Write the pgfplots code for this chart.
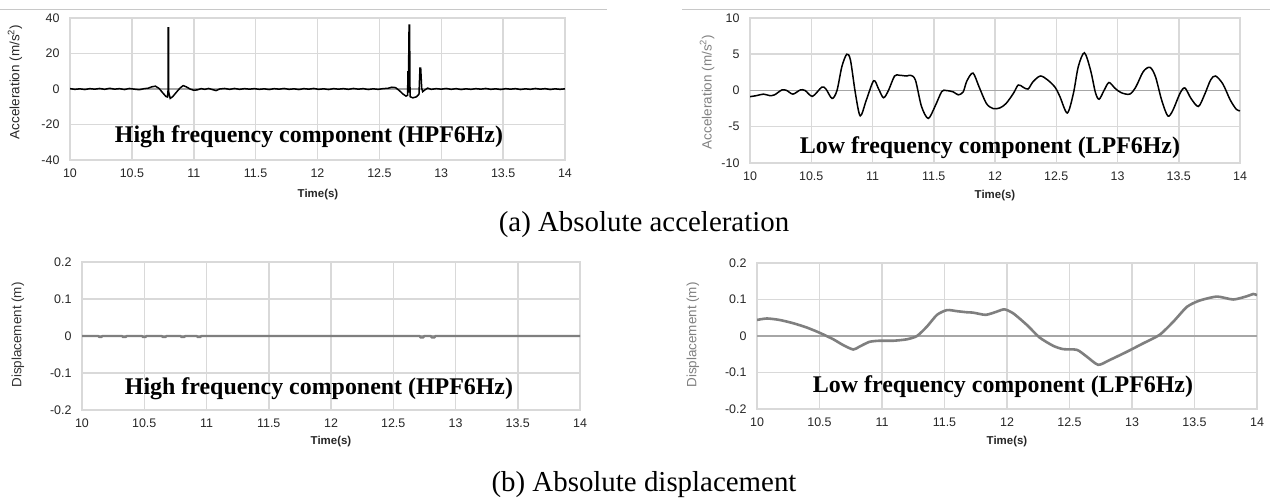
\documentclass[border=0pt]{standalone}
\usepackage{fontspec}
\setmainfont{Liberation Serif}
\setsansfont{Liberation Sans}
\usepackage{pgfplots}
\pgfplotsset{compat=1.18}

\definecolor{gridc}{HTML}{D9D9D9}
\definecolor{zeroc}{HTML}{A6A6A6}
\definecolor{dispc}{HTML}{7F7F7F}
\definecolor{sepc}{HTML}{C8C8C8}

\pgfplotsset{
  panel/.style={
    scale only axis, anchor=south west,
    xmin=10, xmax=14,
    xtick={10,10.5,11,11.5,12,12.5,13,13.5,14},
    grid=major,
    major grid style={draw=gridc, line width=1.5bp},
    axis line style={draw=gridc, line width=1.5bp},
    major tick length=0pt,
    tick label style={font=\fontsize{12.5}{14}\selectfont\sffamily, text=black!85},
    /pgf/number format/assume math mode=true,
    xticklabel style={yshift=-5bp},
    yticklabel style={xshift=-7bp},
    extra y ticks={0}, extra y tick labels={},
    extra y tick style={major grid style={draw=zeroc, line width=1.5bp}},
  },
}
\tikzset{
  annot/.style={font=\fontsize{24}{28}\selectfont\bfseries, anchor=base},
  tlabel/.style={font=\fontsize{11.5}{13}\selectfont\sffamily\bfseries, text=black!85},
  ylab/.style={font=\fontsize{13.5}{15}\selectfont\sffamily, rotate=90},
}

\begin{document}
\begin{tikzpicture}
\path[use as bounding box] (0,0) rectangle (1270bp,499bp);

% separator lines at the top
\draw[sepc, line width=1bp] (0,489bp) -- (607bp,489bp);
\draw[sepc, line width=1bp] (682bp,489bp) -- (1270bp,489bp);

% ---- (a) left: high frequency acceleration ----
\begin{axis}[panel, at={(70bp,339bp)}, width=495bp, height=142bp,
  ymin=-40, ymax=40, ytick={-40,-20,0,20,40}]
\addplot[black, line width=1.5bp] coordinates {
(10.00,0.2)(10.04,-0.2)(10.08,0.1)(10.12,-0.3)(10.16,0.2)(10.20,-0.1)(10.24,0.3)
(10.28,-0.2)(10.32,0.4)(10.36,-0.1)(10.40,0.2)(10.44,-0.3)(10.48,0.3)(10.52,-0.1)
(10.56,-0.4)(10.60,0.2)(10.63,0.4)(10.66,1.2)(10.69,1.6)(10.72,0.3)(10.75,-2.2)
(10.775,-4.2)(10.788,-4.5)(10.792,-1)(10.793,34.4)(10.796,34.4)(10.798,-2)
(10.81,-5.3)(10.83,-4.3)(10.86,-1.8)(10.89,0.6)(10.915,1.9)(10.94,1.2)(10.97,0)
(11.00,-0.7)(11.03,-0.5)(11.06,0.2)(11.09,-0.2)(11.12,0.3)(11.15,-0.3)(11.18,-0.9)
(11.21,0)(11.25,0.3)(11.29,-0.2)(11.33,0.3)(11.37,-0.2)(11.41,0.2)(11.45,-0.1)
(11.49,0.2)(11.53,-0.2)(11.57,0.1)(11.61,-0.3)(11.65,0.2)(11.69,-0.1)(11.73,0.3)
(11.77,-0.2)(11.81,0.1)(11.85,-0.3)(11.89,0.2)(11.93,-0.1)(11.97,0.3)(12.01,-0.2)
(12.05,0.1)(12.09,-0.3)(12.13,0.2)(12.17,-0.1)(12.21,0.2)(12.25,-0.2)(12.29,0.3)
(12.33,-0.1)(12.37,0.2)(12.41,-0.3)(12.45,0.1)(12.49,-0.2)(12.53,0.2)(12.57,0.4)
(12.60,1.0)(12.63,0.8)(12.66,-0.8)(12.69,-2.8)(12.715,-4.0)(12.728,-3.6)
(12.731,10)(12.734,-2)(12.740,36)(12.744,36)(12.748,-4.3)(12.77,-5.0)(12.80,-4.4)
(12.82,-3)(12.828,11.8)(12.834,11.8)(12.842,0.5)(12.85,-1.5)(12.87,-0.4)(12.89,0.5)
(12.92,-0.2)(12.96,0.2)(13.00,-0.1)(13.04,0.3)(13.08,-0.2)(13.12,0.2)(13.16,-0.3)
(13.20,0.1)(13.24,-0.2)(13.28,0.2)(13.32,-0.1)(13.36,0.3)(13.40,-0.2)(13.44,0.1)
(13.48,-0.3)(13.52,0.2)(13.56,-0.1)(13.60,0.2)(13.64,-0.3)(13.68,0.1)(13.72,-0.2)
(13.76,0.3)(13.80,-0.1)(13.84,0.2)(13.88,-0.3)(13.92,0.1)(13.96,-0.2)(14.00,0.1)
};
\end{axis}

% ---- (a) right: low frequency acceleration ----
\begin{axis}[panel, at={(750bp,336bp)}, width=490bp, height=145bp,
  ymin=-10, ymax=10, ytick={-10,-5,0,5,10}]
\addplot[black, line width=1.5bp, smooth, tension=0.5] coordinates {
(10.00,-0.85)(10.055,-0.7)(10.11,-0.5)(10.16,-0.7)(10.20,-0.6)(10.26,0.07)(10.30,0)
(10.35,-0.5)(10.41,0.07)(10.45,0)(10.51,-0.8)(10.585,0.45)(10.62,0.2)(10.67,-1.1)
(10.71,0)(10.75,3.3)(10.79,5.0)(10.82,4.2)(10.86,-0.35)(10.90,-3.5)(10.95,-1.3)
(11.01,1.35)(11.05,0.2)(11.09,-1.0)(11.13,0)(11.18,2.0)(11.22,2.1)(11.28,2.0)
(11.31,2.1)(11.35,1.45)(11.40,-2.2)(11.455,-3.85)(11.51,-2.2)(11.565,-0.15)(11.60,0)
(11.66,-0.2)(11.70,-0.6)(11.74,-0.2)(11.77,1.3)(11.82,2.4)(11.87,0.5)(11.93,-1.8)
(11.986,-2.5)(12.04,-2.4)(12.09,-1.8)(12.15,-0.4)(12.19,0.76)(12.23,0.45)(12.27,0.2)
(12.31,1.2)(12.37,2.0)(12.43,1.45)(12.49,0.45)(12.53,-0.85)(12.59,-3.1)(12.64,-0.4)
(12.68,3.3)(12.73,5.2)(12.78,2.8)(12.82,-0.3)(12.85,-1.2)(12.89,0)(12.93,1.1)
(12.98,0.3)(13.03,-0.3)(13.10,-0.5)(13.15,0.5)(13.21,2.6)(13.265,3.2)(13.31,1.9)
(13.36,-1.3)(13.41,-3.5)(13.45,-2.8)(13.51,-0.4)(13.55,0.35)(13.60,-1.1)(13.66,-2.2)
(13.71,-0.6)(13.76,1.45)(13.80,2.0)(13.86,0.9)(13.92,-1.3)(13.97,-2.6)(14.0,-2.8)
};
\end{axis}

% ---- (b) left: high frequency displacement ----
\begin{axis}[panel, at={(82bp,89bp)}, width=498bp, height=148bp,
  ymin=-0.2, ymax=0.2, ytick={-0.2,-0.1,0,0.1,0.2}]
\addplot[dispc, line width=2.2bp] coordinates {
(10.00,0)(10.13,0)(10.14,-0.003)(10.155,-0.003)(10.165,0)(10.32,0)(10.33,-0.003)
(10.35,-0.003)(10.36,0)(10.48,0)(10.49,-0.003)(10.51,-0.003)(10.52,0)(10.64,0)
(10.65,-0.003)(10.67,-0.003)(10.68,0)(10.79,0)(10.80,-0.003)(10.82,-0.003)(10.83,0)
(10.92,0)(10.93,-0.003)(10.95,-0.003)(10.96,0)(12.71,0)(12.72,-0.004)(12.74,-0.004)
(12.75,0)(12.80,0)(12.81,-0.004)(12.83,-0.004)(12.84,0)(14.00,0)
};
\end{axis}

% ---- (b) right: low frequency displacement ----
\begin{axis}[panel, at={(757bp,90bp)}, width=500bp, height=146bp,
  ymin=-0.2, ymax=0.2, ytick={-0.2,-0.1,0,0.1,0.2}]
\addplot[dispc, line width=2.6bp, smooth, tension=0.4] coordinates {
(10.00,0.044)(10.08,0.048)(10.18,0.044)(10.29,0.035)(10.40,0.023)(10.50,0.009)
(10.61,-0.009)(10.69,-0.025)(10.77,-0.037)(10.82,-0.029)(10.90,-0.016)(10.98,-0.013)
(11.09,-0.013)(11.20,-0.009)(11.28,0)(11.36,0.026)(11.44,0.058)(11.52,0.071)
(11.60,0.068)(11.68,0.065)(11.73,0.064)(11.83,0.058)(11.92,0.067)(11.98,0.073)
(12.05,0.062)(12.16,0.030)(12.26,-0.004)(12.37,-0.027)(12.45,-0.036)(12.56,-0.038)
(12.64,-0.057)(12.73,-0.079)(12.82,-0.066)(12.96,-0.043)(13.09,-0.020)(13.22,0.003)
(13.33,0.039)(13.44,0.080)(13.54,0.097)(13.68,0.108)(13.81,0.100)(13.92,0.109)
(13.97,0.115)(14.00,0.112)
};
\end{axis}

% axis titles
\node[ylab, text=black!85] at (15bp,417bp) {Acceleration (m/s\textsuperscript{2})};
\node[ylab, text=black!50] at (707bp,407bp) {Acceleration (m/s\textsuperscript{2})};
\node[ylab, text=black!80] at (18bp,164bp) {Displacement (m)};
\node[ylab, text=black!50] at (693bp,164bp) {Displacement (m)};

\node[tlabel] at (318bp,304bp) {Time(s)};
\node[tlabel] at (995bp,303bp) {Time(s)};
\node[tlabel] at (331bp,57bp) {Time(s)};
\node[tlabel] at (1007bp,57bp) {Time(s)};

% component labels
\node[annot] at (309bp,356bp) {High frequency component (HPF6Hz)};
\node[annot] at (990bp,345bp) {Low frequency component (LPF6Hz)};
\node[annot] at (319bp,104bp) {High frequency component (HPF6Hz)};
\node[annot] at (1003bp,106bp) {Low frequency component (LPF6Hz)};

% captions
\node[font=\fontsize{29}{32}\selectfont, anchor=base] at (644bp,267bp) {(a) Absolute acceleration};
\node[font=\fontsize{29}{32}\selectfont, anchor=base] at (644bp,8bp) {(b) Absolute displacement};

\end{tikzpicture}
\end{document}
